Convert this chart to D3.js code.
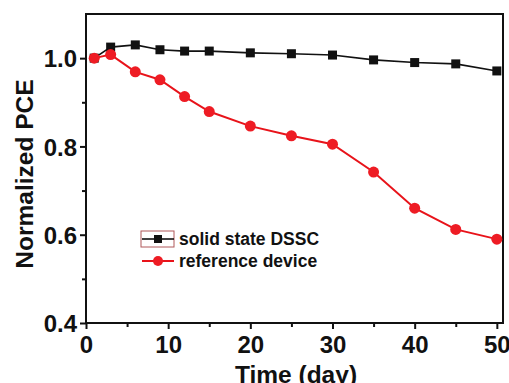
<!DOCTYPE html>
<html>
<head>
<meta charset="utf-8">
<script src="https://cdn.jsdelivr.net/npm/d3@7"></script>
<style>
  body { margin: 0; background: #fff; }
  text { font-family: "Liberation Sans", Arial, sans-serif; font-weight: bold; }
</style>
</head>
<body>
<div id="chart"></div>
<script>
// data
const days = [1, 3, 6, 9, 12, 15, 20, 25, 30, 35, 40, 45, 50]
const solidState = [1.0, 1.025, 1.030, 1.019, 1.016, 1.016, 1.012, 1.010, 1.007, 0.996, 0.990, 0.987, 0.971]
const reference = [1.0, 1.008, 0.969, 0.951, 0.913, 0.879, 0.846, 0.824, 0.805, 0.742, 0.660, 0.612, 0.590]
const xTicks = [0, 10, 20, 30, 40, 50]
const xMinor = [5, 15, 25, 35, 45]
const yTicks = [0.4, 0.6, 0.8, 1.0]
const yMinor = [0.5, 0.7, 0.9]

const W = 509, H = 383
const margin = {top: 14, right: 6, bottom: 60, left: 86}
const width = W - margin.left - margin.right
const height = H - margin.top - margin.bottom

const svg = d3.select("#chart")
  .append("svg")
    .attr("width", W)
    .attr("height", H)
  .append("g")
    .attr("transform", `translate(${margin.left}, ${margin.top})`)

const x = d3.scaleLinear().domain([0, 50.75]).range([0, width])
const y = d3.scaleLinear().domain([0.4, 1.1]).range([height, 0])

// frame
svg.append("rect")
  .attr("width", width).attr("height", height)
  .attr("fill", "none").attr("stroke", "#111").attr("stroke-width", 2)

// x axis
const xAxis = svg.append("g")
  .attr("transform", `translate(0, ${height})`)
  .call(d3.axisBottom(x).tickValues(xTicks).tickSize(6).tickPadding(7).tickFormat(d3.format("d")))
xAxis.select(".domain").remove()
xAxis.selectAll("line").attr("stroke", "#111").attr("stroke-width", 2)
xAxis.selectAll("text").style("font-size", "24px").attr("fill", "#111")
svg.append("g")
  .attr("transform", `translate(0, ${height})`)
  .call(d3.axisBottom(x).tickValues(xMinor).tickSize(4).tickFormat(""))
  .call(g => g.select(".domain").remove())
  .selectAll("line").attr("stroke", "#111").attr("stroke-width", 2)

// y axis
const yAxis = svg.append("g")
  .call(d3.axisLeft(y).tickValues(yTicks).tickSize(6).tickPadding(3).tickFormat(d3.format(".1f")))
yAxis.select(".domain").remove()
yAxis.selectAll("line").attr("stroke", "#111").attr("stroke-width", 2)
yAxis.selectAll("text").style("font-size", "24px").attr("fill", "#111").attr("dy", "0.36em")
svg.append("g")
  .call(d3.axisLeft(y).tickValues(yMinor).tickSize(4).tickFormat(""))
  .call(g => g.select(".domain").remove())
  .selectAll("line").attr("stroke", "#111").attr("stroke-width", 2)

// axis titles
svg.append("text")
  .attr("x", 296 - margin.left)
  .attr("y", height + 60)
  .attr("text-anchor", "middle")
  .style("font-size", "24.5px")
  .attr("fill", "#111")
  .text("Time (day)")

svg.append("text")
  .attr("transform", "rotate(-90)")
  .attr("x", -(174 - margin.top))
  .attr("y", -53)
  .attr("text-anchor", "middle")
  .style("font-size", "24.5px")
  .attr("fill", "#111")
  .text("Normalized PCE")

// series
const line = d3.line()
  .x(d => x(d[0]))
  .y(d => y(d[1]))

const blackData = days.map((d, i) => [d, solidState[i]])
const redData = days.map((d, i) => [d, reference[i]])

svg.append("path")
  .datum(blackData)
  .attr("d", line)
  .attr("fill", "none").attr("stroke", "#111").attr("stroke-width", 1.6)
svg.append("path")
  .datum(redData)
  .attr("d", line)
  .attr("fill", "none").attr("stroke", "#e8131a").attr("stroke-width", 2)

svg.selectAll(".sq")
  .data(blackData)
  .join("rect")
    .attr("x", d => x(d[0]) - 4.5)
    .attr("y", d => y(d[1]) - 4.5)
    .attr("width", 9).attr("height", 9)
    .attr("fill", "#111")

svg.selectAll(".dot")
  .data(redData)
  .join("circle")
    .attr("cx", d => x(d[0]))
    .attr("cy", d => y(d[1]))
    .attr("r", 5.5)
    .attr("fill", "#ee1c24")

// legend
const lg = svg.append("g").attr("transform", `translate(${141 - margin.left}, ${239 - margin.top})`)
lg.append("rect")
  .attr("x", 0).attr("y", -8).attr("width", 33).attr("height", 16)
  .attr("fill", "none").attr("stroke", "#b0585a").attr("stroke-width", 1)
lg.append("line")
  .attr("x1", 1).attr("x2", 33).attr("y1", 0).attr("y2", 0)
  .attr("stroke", "#111").attr("stroke-width", 1.6)
lg.append("rect")
  .attr("x", 13).attr("y", -4).attr("width", 8).attr("height", 8).attr("fill", "#111")
lg.append("text")
  .attr("x", 38).attr("y", 0).attr("dy", "0.36em")
  .style("font-size", "17.5px").attr("fill", "#111")
  .text("solid state DSSC")

lg.append("line")
  .attr("x1", 1).attr("x2", 33).attr("y1", 22).attr("y2", 22)
  .attr("stroke", "#e8131a").attr("stroke-width", 2)
lg.append("circle")
  .attr("cx", 17).attr("cy", 22).attr("r", 5).attr("fill", "#ee1c24")
lg.append("text")
  .attr("x", 38).attr("y", 22).attr("dy", "0.36em")
  .style("font-size", "17.5px").attr("fill", "#111")
  .text("reference device")
</script>
</body>
</html>
